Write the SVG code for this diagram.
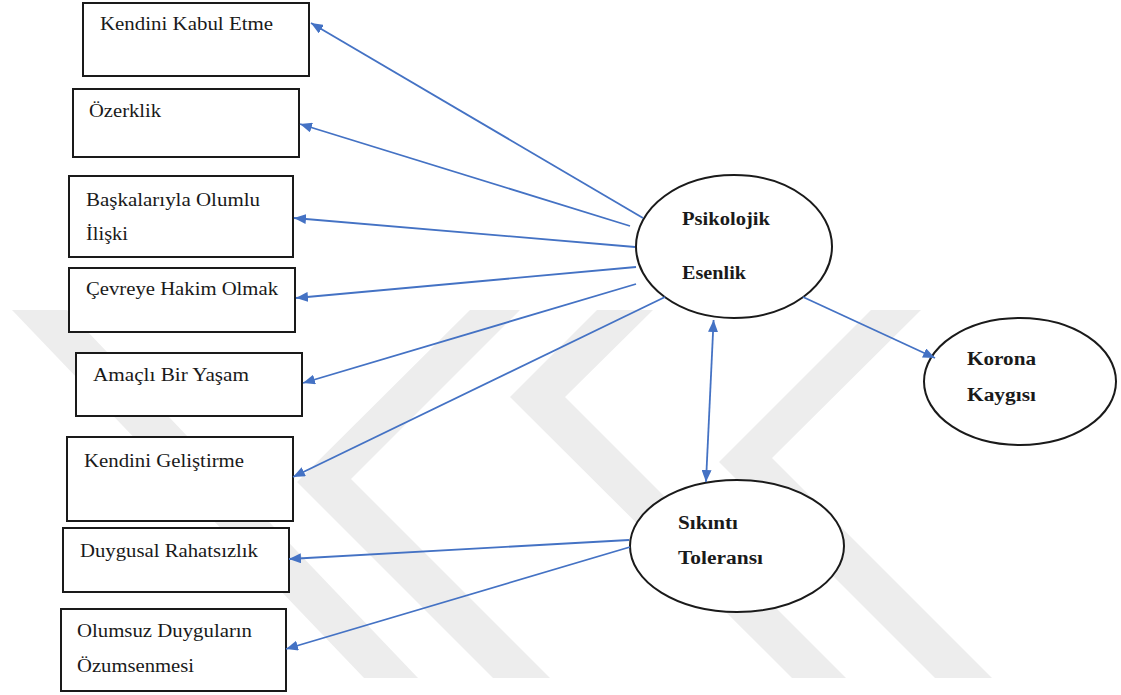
<svg xmlns="http://www.w3.org/2000/svg" width="1121" height="695" viewBox="0 0 1121 695">
<style>
.box{fill:#fff;stroke:#1a1a1a;stroke-width:2}
.ell{fill:#fff;stroke:#1a1a1a;stroke-width:2}
.t{font-family:"Liberation Serif","Times New Roman",serif;font-size:18px;fill:#1a1a1a}
.b{font-family:"Liberation Serif","Times New Roman",serif;font-size:18px;font-weight:bold;fill:#1a1a1a}
.c{stroke:#4472C4;stroke-width:1.8;fill:none;marker-end:url(#ah)}
.wm{fill:#ededed}
</style>
<defs>
<marker id="ah" viewBox="0 0 12 10" refX="12" refY="5" markerWidth="12" markerHeight="10" markerUnits="userSpaceOnUse" orient="auto-start-reverse">
<path d="M0,0 L12,5 L0,10 z" fill="#4472C4"/>
</marker>
</defs>
<rect width="1121" height="695" fill="#fff"/>
<g id="watermark">
<polygon class="wm" points="12,310 67,310 418,678 364,678"/>
<polygon class="wm" points="470,310 520,310 351,479 550,678 493,678 297,482"/>
<polygon class="wm" points="597,310 653,310 565,397 846,678 792,678 510,397"/>
<polygon class="wm" points="871,310 921,310 772,458 992,678 935,678 719,462"/>
</g>
<g id="n1"><rect class="box" x="83" y="3" width="226" height="73"/><text class="t" x="100" y="30" textLength="173" lengthAdjust="spacingAndGlyphs">Kendini Kabul Etme</text></g>
<g id="n2"><rect class="box" x="73" y="89" width="226" height="68"/><text class="t" x="89" y="117" textLength="72" lengthAdjust="spacingAndGlyphs">Özerklik</text></g>
<g id="n3"><rect class="box" x="69" y="176" width="224" height="81"/><text class="t" x="86" y="206" textLength="174" lengthAdjust="spacingAndGlyphs">Başkalarıyla Olumlu</text><text class="t" x="86" y="240" textLength="42" lengthAdjust="spacingAndGlyphs">İlişki</text></g>
<g id="n4"><rect class="box" x="69" y="268" width="226" height="64"/><text class="t" x="86" y="295" textLength="192" lengthAdjust="spacingAndGlyphs">Çevreye Hakim Olmak</text></g>
<g id="n5"><rect class="box" x="76" y="353" width="226" height="63"/><text class="t" x="93" y="381" textLength="156" lengthAdjust="spacingAndGlyphs">Amaçlı Bir Yaşam</text></g>
<g id="n6"><rect class="box" x="67" y="437" width="226" height="84"/><text class="t" x="84" y="467" textLength="160" lengthAdjust="spacingAndGlyphs">Kendini Geliştirme</text></g>
<g id="n7"><rect class="box" x="63" y="528" width="226" height="64"/><text class="t" x="80" y="557" textLength="178" lengthAdjust="spacingAndGlyphs">Duygusal Rahatsızlık</text></g>
<g id="n8"><rect class="box" x="61" y="609" width="225" height="82"/><text class="t" x="77" y="637" textLength="175" lengthAdjust="spacingAndGlyphs">Olumsuz Duyguların</text><text class="t" x="77" y="672" textLength="117" lengthAdjust="spacingAndGlyphs">Özumsenmesi</text></g>
<g id="psikolojik"><ellipse class="ell" cx="734" cy="246.5" rx="98" ry="71.5"/><text class="b" x="682" y="225" textLength="88" lengthAdjust="spacingAndGlyphs">Psikolojik</text><text class="b" x="682" y="279" textLength="64" lengthAdjust="spacingAndGlyphs">Esenlik</text></g>
<g id="korona"><ellipse class="ell" cx="1020" cy="381.5" rx="96" ry="63.5"/><text class="b" x="967" y="365" textLength="69" lengthAdjust="spacingAndGlyphs">Korona</text><text class="b" x="967" y="401" textLength="69" lengthAdjust="spacingAndGlyphs">Kaygısı</text></g>
<g id="sikinti"><ellipse class="ell" cx="737" cy="546" rx="107" ry="66"/><text class="b" x="678" y="529" textLength="60" lengthAdjust="spacingAndGlyphs">Sıkıntı</text><text class="b" x="678" y="564" textLength="85" lengthAdjust="spacingAndGlyphs">Toleransı</text></g>
<g id="connectors">
<line class="c" x1="643" y1="218" x2="311" y2="23"/>
<line class="c" x1="630" y1="226" x2="300" y2="124"/>
<line class="c" x1="635" y1="247" x2="294" y2="218"/>
<line class="c" x1="636" y1="267" x2="296" y2="298"/>
<line class="c" x1="636" y1="284" x2="303" y2="383"/>
<line class="c" x1="665" y1="297" x2="293" y2="477"/>
<line class="c" x1="803" y1="297" x2="935" y2="358"/>
<line class="c" x1="706" y1="482" x2="713.6" y2="320" style="marker-start:url(#ah)"/>
<line class="c" x1="629" y1="540" x2="289" y2="559"/>
<line class="c" x1="630" y1="547" x2="286" y2="649"/>
</g>
</svg>
